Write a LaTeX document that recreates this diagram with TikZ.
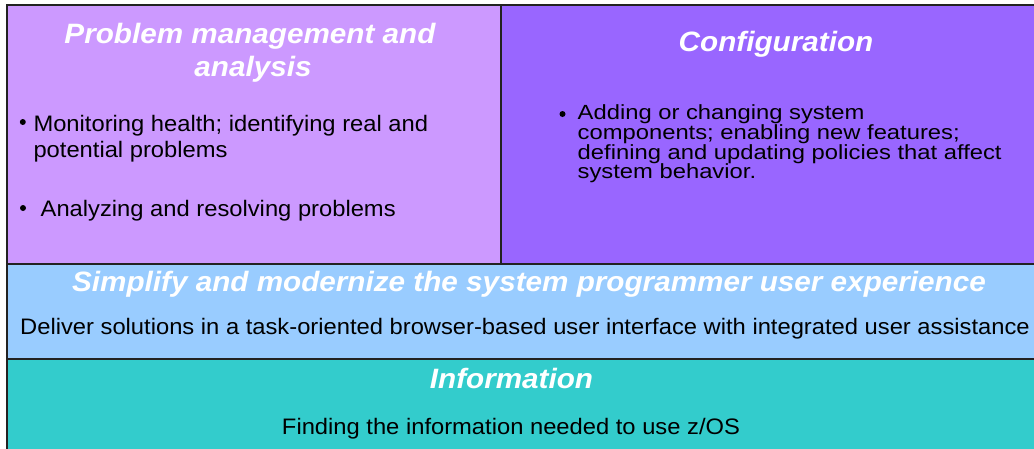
\documentclass[tikz,border=0pt]{standalone}
\usepackage{fontspec}
\setmainfont{Liberation Sans}[FakeStretch=1.06]
\newfontfamily\cfgfont{Liberation Sans}[FakeStretch=1.16]
\definecolor{pmcol}{HTML}{CC99FF}
\definecolor{cfgcol}{HTML}{9966FF}
\definecolor{simcol}{HTML}{99CCFF}
\definecolor{infcol}{HTML}{33CCCC}
\definecolor{edgecol}{HTML}{222222}
\tikzset{
  panel/.style={draw=edgecol, line width=1.5pt},
  ttl/.style={inner sep=0pt, text=white, font=\fontsize{28}{33}\selectfont\bfseries\itshape},
  body/.style={inner sep=0pt, text=black, font=\fontsize{22.4}{24}\selectfont},
  cfgbody/.style={inner sep=0pt, text=black, font=\cfgfont\fontsize{20.5}{19.8}\selectfont},
  dot/.style={circle, fill=black, inner sep=0pt, minimum size=#1}
}
\begin{document}
\begin{tikzpicture}[x=1pt, y=-1pt]
\useasboundingbox (0,0) rectangle (1034,448);
\fill[white] (0,0) rectangle (1034,448);
% panels
\draw[panel, fill=pmcol] (7,5) rectangle (501,264);
\draw[panel, fill=cfgcol] (501,5) rectangle (1045,264);
\draw[panel, fill=simcol] (7,264) rectangle (1045,359);
\draw[panel, fill=infcol] (7,359) rectangle (1045,455);
% problem management
\node[ttl, anchor=base] (pmt1) at (250,43.3) {Problem management and};
\node[ttl, anchor=base] (pmt2) at (253,76) {analysis};
\node[dot=6pt] (pmb1) at (22.8,122) {};
\node[body, anchor=base west] (pm1) at (33.3,131) {Monitoring health; identifying real and};
\node[body, anchor=base west] (pm2) at (33.3,157.5) {potential problems};
\node[dot=6pt] (pmb2) at (23,208) {};
\node[body, anchor=base west] (pm3) at (40.5,216) {Analyzing and resolving problems};
% configuration
\node[ttl, anchor=base] (cft) at (776,51) {Configuration};
\node[dot=6pt] (cfb) at (562.5,114) {};
\node[cfgbody, anchor=base west] (cf1) at (577.5,119) {Adding or changing system};
\node[cfgbody, anchor=base west] (cf2) at (577.5,139) {components; enabling new features;};
\node[cfgbody, anchor=base west] (cf3) at (577.5,159) {defining and updating policies that affect};
\node[cfgbody, anchor=base west] (cf4) at (577.5,178.5) {system behavior.};
% simplify
\node[ttl, anchor=base] (smt) at (529,291) {Simplify and modernize the system programmer user experience};
\node[body, anchor=base] (smb) at (525,334.3) {Deliver solutions in a task-oriented browser-based user interface with integrated user assistance};
% information
\node[ttl, anchor=base] (inft) at (511.5,388.3) {Information};
\node[body, anchor=base] (infb) at (511,434) {Finding the information needed to use z/OS};
\end{tikzpicture}
\end{document}
